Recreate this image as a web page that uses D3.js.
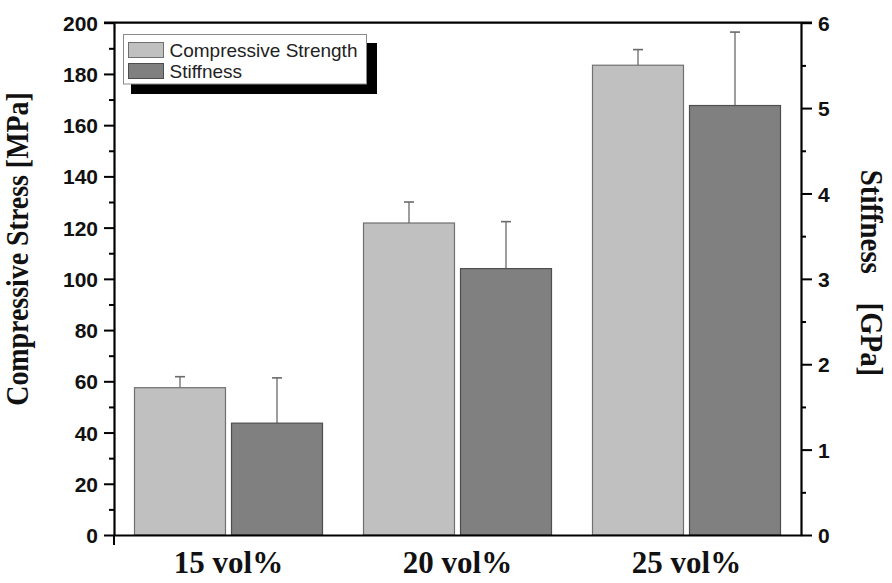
<!DOCTYPE html>
<html>
<head>
<meta charset="utf-8">
<script src="https://cdn.jsdelivr.net/npm/d3@7"></script>
<style>
  html, body { margin: 0; padding: 0; background: #fff; }
  svg { display: block; }
  .tick-label { font-family: "Liberation Sans", Arial, sans-serif; font-weight: bold; font-size: 21px; fill: #111; }
  .cat-label { font-family: "Liberation Serif", "Times New Roman", serif; font-weight: bold; font-size: 31px; fill: #111; }
  .title { font-family: "Liberation Serif", "Times New Roman", serif; font-weight: bold; fill: #111; white-space: pre; }
  .legend-text { font-family: "Liberation Sans", Arial, sans-serif; font-size: 19px; fill: #222; }
</style>
</head>
<body>
<svg id="chart" width="892" height="583"></svg>
<script>
// Compressive strength (left axis, MPa) and stiffness (right axis, GPa) by filler fraction
const categories = ["15 vol%", "20 vol%", "25 vol%"];
const seriesNames = ["Compressive Strength", "Stiffness"];
const strength = [57.5, 121.8, 183.4];
const strengthErr = [4.3, 8.2, 6.1];
const stiffness = [1.31, 3.12, 5.03];
const stiffnessErr = [0.53, 0.55, 0.86];
const leftTicks = [0, 20, 40, 60, 80, 100, 120, 140, 160, 180, 200];
const rightTicks = [0, 1, 2, 3, 4, 5, 6];

const svg = d3.select("#chart");
const plot = { left: 114, right: 801, top: 22.7, bottom: 535 };

const x0 = d3.scaleBand().domain(categories).range([plot.left, plot.right]).padding(0);
const x1 = d3.scaleBand().domain(seriesNames)
  .range([20.5, x0.bandwidth() - 20.5]).paddingInner(0.062).paddingOuter(0);
const yL = d3.scaleLinear().domain([0, 200]).range([plot.bottom, plot.top]);
const yR = d3.scaleLinear().domain([0, 6]).range([plot.bottom, plot.top]);

const fills = { "Compressive Strength": "#c0c0c0", "Stiffness": "#808080" };
const strokes = { "Compressive Strength": "#707070", "Stiffness": "#4e4e4e" };

const rows = categories.map((c, i) => ({
  cat: c,
  bars: [
    { name: "Compressive Strength", value: strength[i], err: strengthErr[i], y: yL },
    { name: "Stiffness", value: stiffness[i], err: stiffnessErr[i], y: yR }
  ]
}));

// Bars and error bars
const groups = svg.append("g").selectAll("g").data(rows).join("g")
  .attr("transform", d => `translate(${x0(d.cat)},0)`);

groups.selectAll("line.err").data(d => d.bars).join("line")
  .attr("class", "err")
  .attr("x1", d => x1(d.name) + x1.bandwidth() / 2)
  .attr("x2", d => x1(d.name) + x1.bandwidth() / 2)
  .attr("y1", d => d.y(d.value))
  .attr("y2", d => d.y(d.value + d.err))
  .attr("stroke", "#6a6a6a").attr("stroke-width", 1.3);

groups.selectAll("line.cap").data(d => d.bars).join("line")
  .attr("class", "cap")
  .attr("x1", d => x1(d.name) + x1.bandwidth() / 2 - 5)
  .attr("x2", d => x1(d.name) + x1.bandwidth() / 2 + 5)
  .attr("y1", d => d.y(d.value + d.err))
  .attr("y2", d => d.y(d.value + d.err))
  .attr("stroke", "#6a6a6a").attr("stroke-width", 1.6);

groups.selectAll("rect").data(d => d.bars).join("rect")
  .attr("x", d => x1(d.name))
  .attr("width", x1.bandwidth())
  .attr("y", d => d.y(d.value))
  .attr("height", d => plot.bottom - d.y(d.value))
  .attr("fill", d => fills[d.name])
  .attr("stroke", d => strokes[d.name])
  .attr("stroke-width", 1.2);

// Frame lines: top and axis domains
const axisStyle = g => {
  g.selectAll("path.domain").attr("stroke", "#000").attr("stroke-width", 2.2);
  g.selectAll(".tick line").attr("stroke", "#000").attr("stroke-width", 2);
};

svg.append("line")
  .attr("x1", plot.left - 10).attr("x2", plot.right + 11)
  .attr("y1", plot.top).attr("y2", plot.top)
  .attr("stroke", "#000").attr("stroke-width", 2.2);

// Left axis (MPa)
const minorL = d3.range(10, 200, 20);
svg.append("g").attr("transform", `translate(${plot.left},0)`)
  .call(d3.axisLeft(yL).tickValues(minorL).tickSize(5).tickFormat("").tickSizeOuter(0))
  .call(axisStyle)
  .call(g => g.select(".domain").remove());
svg.append("g").attr("transform", `translate(${plot.left},0)`)
  .call(d3.axisLeft(yL).tickValues(leftTicks).tickSize(10).tickPadding(6).tickSizeOuter(0).tickFormat(d3.format("d")))
  .call(axisStyle)
  .call(g => g.selectAll("text").attr("class", "tick-label").attr("dy", "0.36em"));

// Right axis (GPa)
const minorR = d3.range(0.5, 6, 1);
svg.append("g").attr("transform", `translate(${plot.right},0)`)
  .call(d3.axisRight(yR).tickValues(minorR).tickSize(5).tickFormat("").tickSizeOuter(0))
  .call(axisStyle)
  .call(g => g.select(".domain").remove());
svg.append("g").attr("transform", `translate(${plot.right},0)`)
  .call(d3.axisRight(yR).tickValues(rightTicks).tickSize(11).tickPadding(6).tickSizeOuter(0).tickFormat(d3.format("d")))
  .call(axisStyle)
  .call(g => g.selectAll("text").attr("class", "tick-label").attr("dy", "0.36em"));

// Bottom category axis
svg.append("g").attr("transform", `translate(0,${plot.bottom})`)
  .call(d3.axisBottom(x0).tickSize(0).tickPadding(16).tickSizeOuter(0))
  .call(axisStyle)
  .call(g => g.selectAll("text").attr("class", "cat-label"));
svg.append("line")
  .attr("x1", plot.left).attr("x2", plot.left)
  .attr("y1", plot.bottom).attr("y2", plot.bottom + 10)
  .attr("stroke", "#000").attr("stroke-width", 2);

// Axis titles (slightly condensed along the text direction)
svg.append("text").attr("class", "title")
  .attr("font-size", 31)
  .attr("transform", "translate(28,249) rotate(-90) scale(0.9,1)")
  .attr("text-anchor", "middle")
  .text("Compressive Stress [MPa]");
svg.append("text").attr("class", "title")
  .attr("font-size", 32)
  .attr("transform", "translate(861,273) rotate(90) scale(0.9,1)")
  .attr("text-anchor", "middle")
  .text("Stiffness    [GPa]");

// Legend with drop shadow
const legend = svg.append("g");
legend.append("rect").attr("x", 131).attr("y", 43).attr("width", 246).attr("height", 51).attr("fill", "#000");
legend.append("rect").attr("x", 123.5).attr("y", 34.5).attr("width", 243).attr("height", 49.5)
  .attr("fill", "#fff").attr("stroke", "#8a8a8a").attr("stroke-width", 1);
const items = legend.selectAll("g.item").data(seriesNames).join("g")
  .attr("class", "item")
  .attr("transform", (d, i) => `translate(128.5,${42.5 + i * 21})`);
items.append("rect").attr("width", 35).attr("height", 15)
  .attr("fill", d => fills[d]).attr("stroke", d => strokes[d]).attr("stroke-width", 1);
items.append("text").attr("class", "legend-text")
  .attr("x", 41).attr("y", 14).text(d => d);
</script>
</body>
</html>
